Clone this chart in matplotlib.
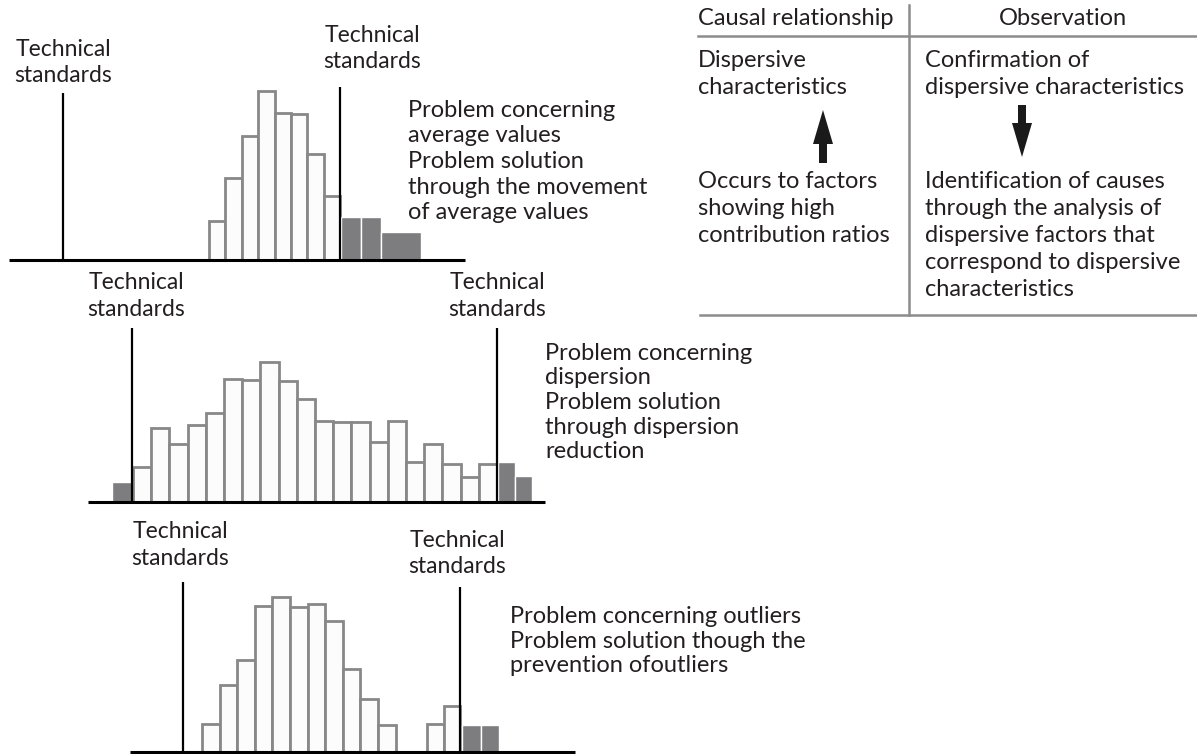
import matplotlib
matplotlib.use("Agg")
import matplotlib.pyplot as plt
from matplotlib.patches import FancyArrow

# ---------------- data ----------------
spec_label = ["Technical", "standards"]

# panel 1: problem concerning average values
p1_in_heights = [39, 82, 124, 169, 147, 146, 106, 64]
p1_out_heights = [43, 43, 28]
p1_out_widths = [1, 1, 2]          # in bins
p1_text = ["Problem concerning", "average values", "Problem solution",
           "through the movement", "of average values"]

# panel 2: problem concerning dispersion
p2_left_out_heights = [20]
p2_in_heights = [35, 74, 58, 77, 89, 123, 122, 140, 121, 103,
                 81, 80, 80, 60, 81, 40, 58, 38, 25, 38]
p2_right_out_heights = [40, 26]
p2_text = ["Problem concerning", "dispersion", "Problem solution",
           "through dispersion", "reduction"]

# panel 3: problem concerning outliers
p3_in_heights = [28, 67, 92, 146, 155, 145, 148, 131, 83, 53, 27]
p3_tail_heights = [28, 46]
p3_out_heights = [27, 27]
p3_text = ["Problem concerning outliers", "Problem solution though the",
           "prevention ofoutliers"]

# table
tab_headers = ["Causal relationship", "Observation"]
tab_left_top = ["Dispersive", "characteristics"]
tab_left_bottom = ["Occurs to factors", "showing high", "contribution ratios"]
tab_right_top = ["Confirmation of", "dispersive characteristics"]
tab_right_bottom = ["Identification of causes", "through the analysis of",
                    "dispersive factors that", "correspond to dispersive",
                    "characteristics"]

# ---------------- style ----------------
FONT = "Lato"
FS = 16.5
PFS = 17.0
TFS = 17.0
TXT = "#231f20"
WHITE_FILL = "#fbfcfb"
WHITE_EDGE = "#888888"
GRAY_FILL = "#7d7d80"
RULE = "#8c8c8c"

W, H = 1197, 754
fig = plt.figure(figsize=(W / 100, H / 100), dpi=100)
ax = fig.add_axes([0, 0, 1, 1])
ax.set_xlim(0, W)
ax.set_ylim(H, 0)
ax.axis("off")


def lines(x, y0, texts, step, ha="left", fs=FS):
    for i, t in enumerate(texts):
        ax.text(x, y0 + i * step, t, ha=ha, va="baseline", fontsize=fs,
                family=FONT, color=TXT)


def bars(x0, width, heights, base, kind, widths=None):
    if widths is None:
        widths = [1] * len(heights)
    lefts = []
    acc = 0
    for w in widths:
        lefts.append(x0 + acc * width)
        acc += w
    ws = [w * width for w in widths]
    if kind == "in":
        ax.bar(lefts, [-h for h in heights], width=ws, bottom=base,
               align="edge", facecolor=WHITE_FILL, edgecolor=WHITE_EDGE,
               linewidth=2.0, zorder=2)
    else:
        ax.bar(lefts, [-h for h in heights], width=ws, bottom=base,
               align="edge", facecolor=GRAY_FILL, edgecolor="white",
               linewidth=1.0, zorder=2)


def spec(x, top, base):
    ax.plot([x, x], [top, base], color="black", lw=1.6, zorder=3,
            solid_capstyle="butt")


def baseline(x0, x1, y):
    ax.plot([x0, x1], [y, y], color="black", lw=2.2, zorder=4,
            solid_capstyle="butt")


# ---- panel 1 ----
b1 = 260
bars(209, 16.4, p1_in_heights, b1, "in")
bars(341, 20.0, p1_out_heights, b1, "out", p1_out_widths)
spec(63, 93, b1)
spec(340, 87, b1)
baseline(9, 465, b1)
lines(63, 56, spec_label, 26, ha="center")
lines(372, 42, spec_label, 26, ha="center")
lines(408, 117, p1_text, 25.5, fs=PFS)

# ---- panel 2 ----
b2 = 502
bars(112, 20.0, p2_left_out_heights, b2, "out")
bars(133, 18.2, p2_in_heights, b2, "in")
bars(498, 17.0, p2_right_out_heights, b2, "out")
spec(132, 328, b2)
spec(497, 328, b2)
baseline(88, 545, b2)
lines(136, 289, spec_label, 27, ha="center")
lines(497, 289, spec_label, 27, ha="center")
lines(545, 360, p2_text, 24.5, fs=PFS)

# ---- panel 3 ----
b3 = 752
bars(202, 17.6, p3_in_heights, b3, "in")
bars(427, 16.5, p3_tail_heights, b3, "in")
bars(462, 18.5, p3_out_heights, b3, "out")
spec(183, 582, b3)
spec(460, 587, b3)
baseline(130, 575, b3)
lines(180, 538, spec_label, 27, ha="center")
lines(457, 547, spec_label, 26, ha="center")
lines(510, 623, p3_text, 24.5, fs=PFS)

# ---- table ----
ax.plot([698, W], [36, 36], color=RULE, lw=1.8)
ax.plot([700, W], [315, 315], color=RULE, lw=1.8)
ax.plot([909, 909], [5, 315], color=RULE, lw=1.8)
ax.text(698, 25, tab_headers[0], ha="left", va="baseline", fontsize=TFS,
        family=FONT, color=TXT)
ax.text(1063, 25, tab_headers[1], ha="center", va="baseline", fontsize=TFS,
        family=FONT, color=TXT)
lines(698, 67, tab_left_top, 26.5, fs=TFS)
lines(925, 67, tab_right_top, 26.5, fs=TFS)
lines(698, 188, tab_left_bottom, 27, fs=TFS)
lines(925, 188, tab_right_bottom, 27, fs=TFS)

ax.add_patch(FancyArrow(823, 163, 0, -53, width=8, head_width=20,
                        head_length=34, length_includes_head=True,
                        color="#1a1a1a", lw=0))
ax.add_patch(FancyArrow(1022, 105, 0, 52, width=8, head_width=20,
                        head_length=34, length_includes_head=True,
                        color="#1a1a1a", lw=0))

fig.savefig("out.png", dpi=100, facecolor="white")
